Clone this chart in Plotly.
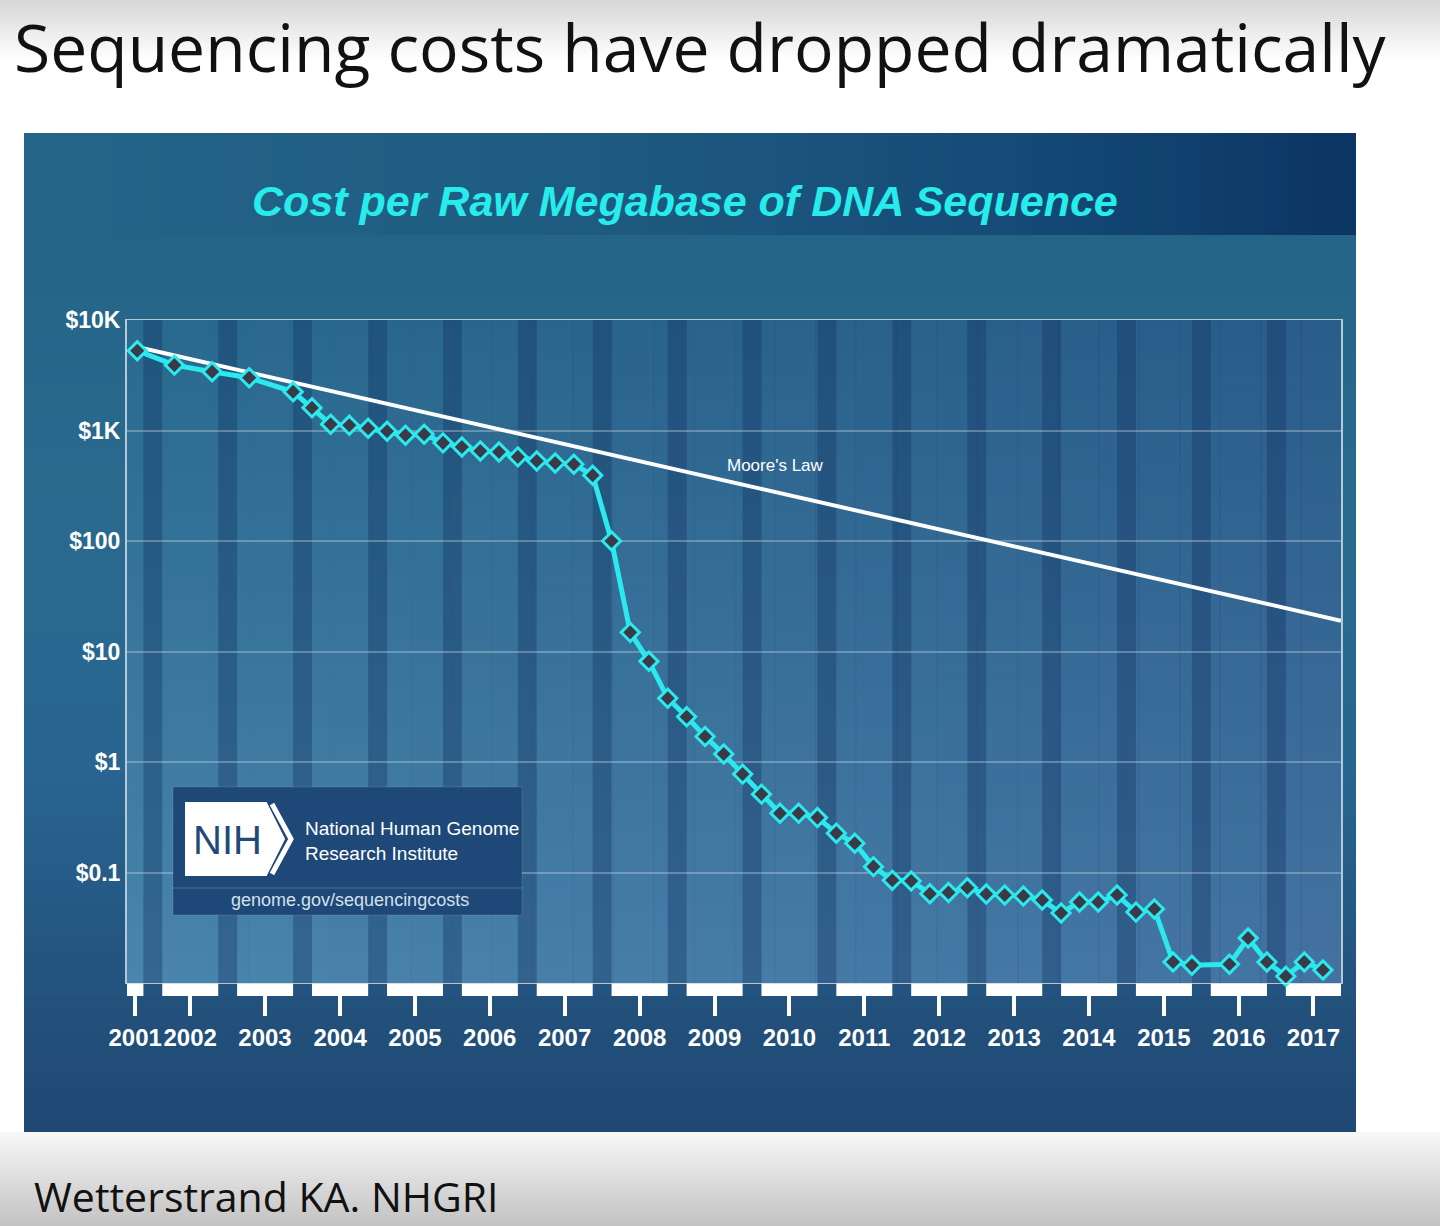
import math
from datetime import date
import plotly.graph_objects as go

# ---------------- data ----------------
quarter_dates = [
    "2001-09-01", "2002-03-01", "2002-09-01", "2003-03-01", "2003-10-01",
    "2004-01-01", "2004-04-01", "2004-07-01", "2004-10-01",
    "2005-01-01", "2005-04-01", "2005-07-01", "2005-10-01",
    "2006-01-01", "2006-04-01", "2006-07-01", "2006-10-01",
    "2007-01-01", "2007-04-01", "2007-07-01", "2007-10-01",
    "2008-01-01", "2008-04-01", "2008-07-01", "2008-10-01",
    "2009-01-01", "2009-04-01", "2009-07-01", "2009-10-01",
    "2010-01-01", "2010-04-01", "2010-07-01", "2010-10-01",
    "2011-01-01", "2011-04-01", "2011-07-01", "2011-10-01",
    "2012-01-01", "2012-04-01", "2012-07-01", "2012-10-01",
    "2013-01-01", "2013-04-01", "2013-07-01", "2013-10-01",
    "2014-01-01", "2014-04-01", "2014-07-01", "2014-10-01",
    "2015-01-01", "2015-04-01", "2015-07-01", "2015-10-01",
    "2016-04-01", "2016-07-01", "2016-10-01",
    "2017-01-01", "2017-04-01", "2017-07-01",
]
cost_per_mb = [
    5275, 3907, 3398, 2999, 2239,
    1604, 1140, 1117, 1049,
    986, 907, 925, 773,
    710, 653, 640, 577,
    530, 508, 495, 393,
    100, 14.9, 8.15, 3.77,
    2.57, 1.70, 1.18, 0.777,
    0.512, 0.344, 0.344, 0.314,
    0.227, 0.184, 0.113, 0.085,
    0.0837, 0.0643, 0.066, 0.0728,
    0.0638, 0.0625, 0.0612, 0.0563,
    0.043, 0.054, 0.054, 0.0625,
    0.0438, 0.0467, 0.0155, 0.0145,
    0.0148, 0.0255, 0.0155,
    0.0115, 0.0155, 0.0131,
]
moore_dates = ["2001-09-01", "2017-09-27"]
moore_cost = [5700, 19]

year_labels = ["2001", "2002", "2003", "2004", "2005", "2006", "2007", "2008", "2009",
               "2010", "2011", "2012", "2013", "2014", "2015", "2016", "2017"]
y_tick_values = [0.1, 1, 10, 100, 1000, 10000]
y_tick_text = ["$0.1", "$1", "$10", "$100", "$1K", "$10K"]

X_RANGE = ["2001-07-13", "2017-09-27"]

# ---------------- helpers ----------------
W, H = 1440, 1226
PL, PR, PT, PB = 127, 1341, 320, 983


def px(x):
    return x / W


def py(y):
    return 1 - y / H


def hx(h, a=1.0):
    h = h.lstrip("#")
    return (int(h[0:2], 16), int(h[2:4], 16), int(h[4:6], 16), a)


def interp(stops, t):
    for i in range(len(stops) - 1):
        t0, c0 = stops[i]
        t1, c1 = stops[i + 1]
        if t <= t1:
            f = 0 if t1 == t0 else (t - t0) / (t1 - t0)
            c = [c0[k] + (c1[k] - c0[k]) * f for k in range(4)]
            return "rgba(%d,%d,%d,%.3f)" % (round(c[0]), round(c[1]), round(c[2]), c[3])
    c = stops[-1][1]
    return "rgba(%d,%d,%d,%.3f)" % c


shapes = []


def grad(x0, y0, x1, y1, stops, n, vertical=True, layer="below", overlap=1.0):
    for i in range(n):
        t0, t1 = i / n, (i + 1) / n
        col = interp(stops, (t0 + t1) / 2)
        if vertical:
            a, b = y0 + (y1 - y0) * t0, min(y1, y0 + (y1 - y0) * t1 + overlap)
            shapes.append(dict(type="rect", xref="paper", yref="paper", x0=px(x0), x1=px(x1),
                               y0=py(a), y1=py(b), fillcolor=col, line=dict(width=0), layer=layer))
        else:
            a, b = x0 + (x1 - x0) * t0, min(x1, x0 + (x1 - x0) * t1 + overlap)
            shapes.append(dict(type="rect", xref="paper", yref="paper", x0=px(a), x1=px(b),
                               y0=py(y0), y1=py(y1), fillcolor=col, line=dict(width=0), layer=layer))


def d(s):
    return date.fromisoformat(s)


# page background
grad(0, 0, W, 60, [(0, hx("#d6d6d6")), (1, hx("#ffffff"))], 20)
grad(0, 1132, W, H, [(0, hx("#f8f8f8")), (1, hx("#c2c2c2"))], 24)
# slide panel body
grad(24, 235, 1356, 1132, [(0, hx("#246487")), (0.3, hx("#296a8e")), (0.6, hx("#286590")),
                           (0.82, hx("#23547f")), (1, hx("#1f4873"))], 60)
# title band
grad(24, 133, 1356, 235, [(0, hx("#246588")), (0.45, hx("#1e5a80")), (0.75, hx("#154a76")),
                          (1, hx("#0b3563"))], 90, vertical=False)
# plot area
grad(PL, PT, PR, PB, [(0, hx("#2a6a8f")), (1, hx("#4a86ad"))], 60, overlap=1.0)
grad(PL, PT, PR, PB, [(0, (30, 30, 100, 0.0)), (1, (40, 30, 110, 0.18))], 30, vertical=False)

# dark year-boundary stripes (Oct -> Jan) and white year bars (Jan -> Oct)
rs, re_ = d(X_RANGE[0]), d(X_RANGE[1])
for lab in year_labels:
    yr = int(lab)
    if yr < 2017:
        shapes.append(dict(type="rect", xref="x", yref="paper", x0=f"{yr}-10-01", x1=f"{yr + 1}-01-01",
                           y0=py(PB), y1=py(PT), fillcolor="rgba(18,52,96,0.38)", line=dict(width=0),
                           layer="below"))
    s = max(date(yr, 1, 1), rs)
    e = min(date(yr, 10, 1), re_)
    shapes.append(dict(type="rect", xref="x", yref="paper", x0=s.isoformat(), x1=e.isoformat(),
                       y0=py(996), y1=py(PB), fillcolor="#ffffff", line=dict(width=0), layer="below"))

tick_vals = []
for lab in year_labels:
    yr = int(lab)
    s = max(date(yr, 1, 1), rs)
    e = min(date(yr, 10, 1), re_)
    tick_vals.append((s + (e - s) / 2).isoformat())

# NIH box
shapes.append(dict(type="rect", xref="paper", yref="paper", x0=px(173), x1=px(522), y0=py(915), y1=py(787),
                   fillcolor="#1e4878", line=dict(color="rgba(255,255,255,0.12)", width=1), layer="above"))
shapes.append(dict(type="line", xref="paper", yref="paper", x0=px(173), x1=px(522), y0=py(888), y1=py(888),
                   line=dict(color="rgba(255,255,255,0.22)", width=1), layer="above"))
logo_path = "M {},{} L {},{} L {},{} L {},{} L {},{} Z".format(
    px(186), py(803), px(266), py(803), px(284), py(839), px(266), py(875), px(186), py(875))
shapes.append(dict(type="path", xref="paper", yref="paper", path=logo_path, fillcolor="#ffffff",
                   line=dict(color="#ffffff", width=2), layer="above"))
chev_path = "M {},{} L {},{} L {},{}".format(px(272), py(804), px(291), py(839), px(272), py(874))
shapes.append(dict(type="path", xref="paper", yref="paper", path=chev_path,
                   line=dict(color="#ffffff", width=5), layer="above"))

# ---------------- traces ----------------
fig = go.Figure()
fig.add_trace(go.Scatter(x=moore_dates, y=moore_cost, mode="lines",
                         line=dict(color="#ffffff", width=4), hoverinfo="skip", showlegend=False))
fig.add_trace(go.Scatter(x=quarter_dates, y=cost_per_mb, mode="lines+markers",
                         line=dict(color="#2be9ec", width=5),
                         marker=dict(symbol="diamond", size=14, color="#3a3a48",
                                     line=dict(color="#2be9ec", width=3)),
                         cliponaxis=False, showlegend=False))

# ---------------- annotations ----------------
annotations = [
    dict(text="Sequencing costs have dropped dramatically", xref="paper", yref="paper",
         x=px(12), y=py(46), xanchor="left", yanchor="middle", showarrow=False,
         font=dict(family="Open Sans", size=66, color="#111111")),
    dict(text="Wetterstrand KA. NHGRI", xref="paper", yref="paper",
         x=px(32), y=py(1196), xanchor="left", yanchor="middle", showarrow=False,
         font=dict(family="Open Sans", size=41, color="#111111")),
    dict(text="Cost per Raw Megabase of DNA Sequence", xref="paper", yref="paper",
         x=px(685), y=py(201), xanchor="center", yanchor="middle", showarrow=False,
         font=dict(family="Liberation Sans", size=43, color="#27ecec", weight="bold", style="italic")),
    dict(text="Moore's Law", xref="x", yref="y", x="2010-03-10", y=math.log10(484),
         xanchor="center", yanchor="middle", showarrow=False,
         font=dict(family="Liberation Sans", size=17, color="#ffffff")),
    dict(text="NIH", xref="paper", yref="paper", x=px(227), y=py(840), xanchor="center", yanchor="middle",
         showarrow=False, font=dict(family="Liberation Sans", size=40, color="#1f4a7a")),
    dict(text="National Human Genome", xref="paper", yref="paper", x=px(303), y=py(828),
         xanchor="left", yanchor="middle", showarrow=False,
         font=dict(family="Liberation Sans", size=19, color="#ffffff")),
    dict(text="Research Institute", xref="paper", yref="paper", x=px(303), y=py(853),
         xanchor="left", yanchor="middle", showarrow=False,
         font=dict(family="Liberation Sans", size=19, color="#ffffff")),
    dict(text="genome.gov/sequencingcosts", xref="paper", yref="paper", x=px(350), y=py(900),
         xanchor="center", yanchor="middle", showarrow=False,
         font=dict(family="Liberation Sans", size=18, color="#d4e0ec")),
]

axis_line = "rgba(205,220,232,0.85)"
fig.update_layout(
    width=W, height=H, autosize=False,
    margin=dict(l=0, r=0, t=0, b=0, autoexpand=False),
    paper_bgcolor="#ffffff", plot_bgcolor="rgba(0,0,0,0)",
    showlegend=False,
    shapes=shapes, annotations=annotations,
    xaxis=dict(domain=[px(PL), px(PR)], type="date", range=X_RANGE,
               tickmode="array", tickvals=tick_vals, ticktext=year_labels, tickangle=0,
               ticks="outside", ticklen=32, tickwidth=4, tickcolor="#ffffff",
               ticklabelstandoff=1, automargin=False,
               tickfont=dict(family="Liberation Sans", size=24, color="#ffffff", weight="bold"),
               showgrid=False, zeroline=False, showline=True, linecolor=axis_line, linewidth=1,
               mirror=True),
    yaxis=dict(domain=[py(PB), py(PT)], type="log", range=[-2, 4],
               tickmode="array", tickvals=y_tick_values, ticktext=y_tick_text,
               ticks="", ticklabelstandoff=0, automargin=False,
               tickfont=dict(family="Liberation Sans", size=23, color="#ffffff", weight="bold"),
               showgrid=True, gridcolor="rgba(205,222,236,0.35)", gridwidth=1.5,
               zeroline=False, showline=True, linecolor=axis_line, linewidth=2, mirror=True),
)

fig.write_html(
    "out.html",
    config={"displayModeBar": False},
    post_script="document.documentElement.style.margin='0';document.body.style.margin='0';"
                "document.documentElement.style.overflow='hidden';document.body.style.overflow='hidden';",
)
